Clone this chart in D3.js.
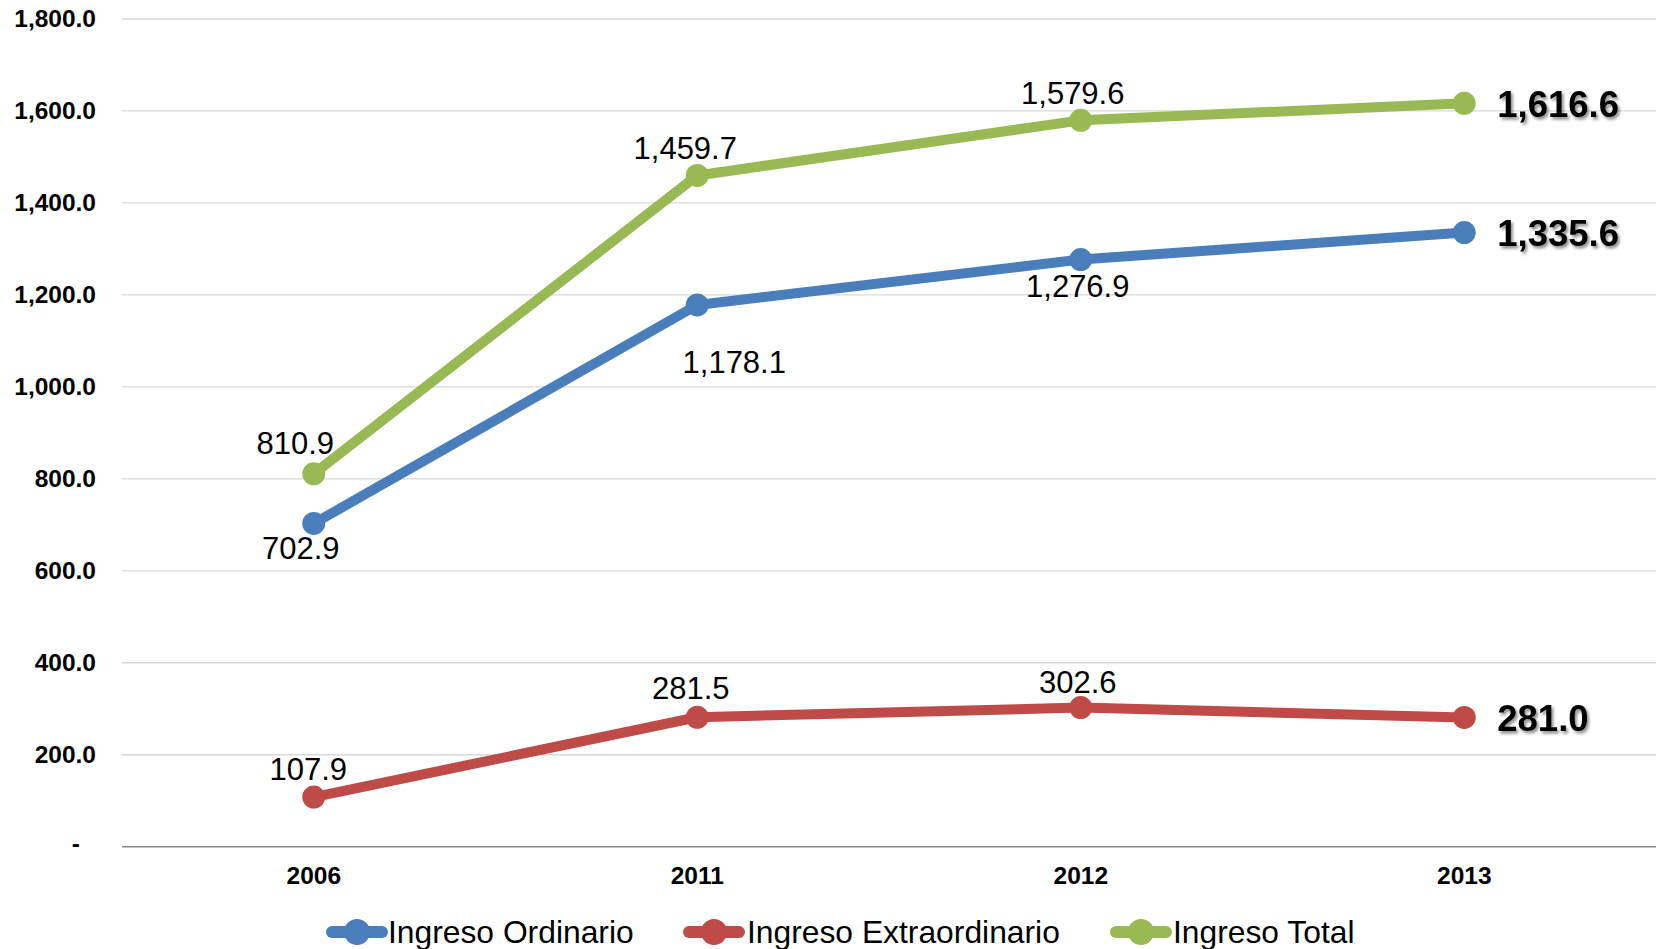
<!DOCTYPE html>
<html>
<head>
<meta charset="utf-8">
<script src="https://cdn.jsdelivr.net/npm/d3@7"></script>
<style>
  html, body { margin: 0; padding: 0; background: #ffffff; }
  svg { display: block; }
</style>
</head>
<body>
<svg id="chart" width="1661" height="949"></svg>
<script>
// ---- data ----
const categories = ["2006", "2011", "2012", "2013"];
const seriesNames = ["Ingreso Ordinario", "Ingreso Extraordinario", "Ingreso Total"];
const ingresoOrdinario = [702.9, 1178.1, 1276.9, 1335.6];
const ingresoExtraordinario = [107.9, 281.5, 302.6, 281.0];
const ingresoTotal = [810.9, 1459.7, 1579.6, 1616.6];
const yTicks = [0, 200, 400, 600, 800, 1000, 1200, 1400, 1600, 1800];

// ---- styling / layout (not data) ----
const colors = ["#4a7ebb", "#be4b48", "#98b954"];
// label offsets (dx, dy of text centre) relative to each point, per series
const labelOffsets = [
  [[-13, 25], [37, 58], [-3, 26.5], null],
  [[-5.5, -28], [-6.5, -29], [-3, -25.5], null],
  [[-18.5, -30], [-12, -26.5], [-8, -27], null]
];

const svg = d3.select("#chart");
const plot = { left: 122, right: 1656, top: 19, bottom: 846.7 };

const x = d3.scaleBand().domain(categories).range([plot.left, plot.right]).padding(0);
const y = d3.scaleLinear().domain([0, 1800]).range([plot.bottom, plot.top]);
const cx = c => x(c) + x.bandwidth() / 2;

const defs = svg.append("defs");
const f = defs.append("filter").attr("id", "shadow").attr("x", "-20%").attr("y", "-30%").attr("width", "140%").attr("height", "160%");
f.append("feDropShadow").attr("dx", 2).attr("dy", 2.5).attr("stdDeviation", 1.6)
  .attr("flood-color", "#000").attr("flood-opacity", 0.45);

// gridlines
svg.append("g").selectAll("line").data(yTicks.filter(d => d > 0)).join("line")
  .attr("x1", plot.left).attr("x2", plot.right)
  .attr("y1", d => y(d)).attr("y2", d => y(d))
  .attr("stroke", "#d9d9d9").attr("stroke-width", 1.3);

// y axis labels
const fmt = d3.format(",.1f");
const yAxis = svg.append("g").attr("transform", `translate(${plot.left},0)`)
  .call(d3.axisLeft(y).tickValues(yTicks).tickSize(0).tickPadding(26)
    .tickFormat(d => d === 0 ? "-" : fmt(d)));
yAxis.select(".domain").remove();
yAxis.selectAll("text")
  .attr("font-family", "Liberation Sans, Arial, sans-serif")
  .attr("font-weight", "bold").attr("font-size", 24.5).attr("fill", "#000");
yAxis.selectAll(".tick").filter(d => d === 0).select("text").attr("dx", -16).attr("dy", "0.2em");

// x axis
svg.append("line").attr("x1", plot.left).attr("x2", plot.right)
  .attr("y1", y(0)).attr("y2", y(0)).attr("stroke", "#868686").attr("stroke-width", 1.5);
const xAxis = svg.append("g").attr("transform", `translate(0,${y(0)})`)
  .call(d3.axisBottom(x).tickSize(0).tickPadding(20));
xAxis.select(".domain").remove();
xAxis.selectAll("text")
  .attr("font-family", "Liberation Sans, Arial, sans-serif")
  .attr("font-weight", "bold").attr("font-size", 24.5).attr("fill", "#000");

// series
const allSeries = [ingresoOrdinario, ingresoExtraordinario, ingresoTotal];
const line = d3.line().x((d, i) => cx(categories[i])).y(d => y(d));

allSeries.forEach((vals, si) => {
  const g = svg.append("g");
  g.append("path").datum(vals).attr("d", line)
    .attr("fill", "none").attr("stroke", colors[si]).attr("stroke-width", 10)
    .attr("stroke-linejoin", "round");
  g.selectAll("circle").data(vals).join("circle")
    .attr("cx", (d, i) => cx(categories[i])).attr("cy", d => y(d)).attr("r", 11.5)
    .attr("fill", colors[si]);
});

// labels
allSeries.forEach((vals, si) => {
  vals.forEach((v, i) => {
    const px = cx(categories[i]), py = y(v);
    const off = labelOffsets[si][i];
    if (off) {
      svg.append("text").attr("x", px + off[0]).attr("y", py + off[1])
        .attr("text-anchor", "middle").attr("dominant-baseline", "central")
        .attr("font-family", "Liberation Sans, Arial, sans-serif")
        .attr("font-size", 31).attr("fill", "#000").text(fmt(v));
    } else {
      svg.append("text").attr("x", px + 33).attr("y", py + 1)
        .attr("text-anchor", "start").attr("dominant-baseline", "central")
        .attr("font-family", "Liberation Sans, Arial, sans-serif")
        .attr("font-weight", "bold").attr("font-size", 36.5).attr("fill", "#000")
        .attr("filter", "url(#shadow)").text(fmt(v));
    }
  });
});

// legend
const legendItems = [
  { x1: 327, x2: 387, tx: 388 },
  { x1: 684, x2: 744, tx: 747 },
  { x1: 1111, x2: 1171, tx: 1173 }
];
const ly = 932;
seriesNames.forEach((name, i) => {
  const it = legendItems[i];
  const g = svg.append("g");
  g.append("line").attr("x1", it.x1 + 5).attr("x2", it.x2 - 5).attr("y1", ly).attr("y2", ly)
    .attr("stroke", colors[i]).attr("stroke-width", 12).attr("stroke-linecap", "round");
  g.append("circle").attr("cx", (it.x1 + it.x2) / 2).attr("cy", ly).attr("r", 13).attr("fill", colors[i]);
  g.append("text").attr("x", it.tx).attr("y", ly).attr("dominant-baseline", "central")
    .attr("font-family", "Liberation Sans, Arial, sans-serif")
    .attr("font-size", 31.8).attr("fill", "#000").text(name);
});
</script>
</body>
</html>
